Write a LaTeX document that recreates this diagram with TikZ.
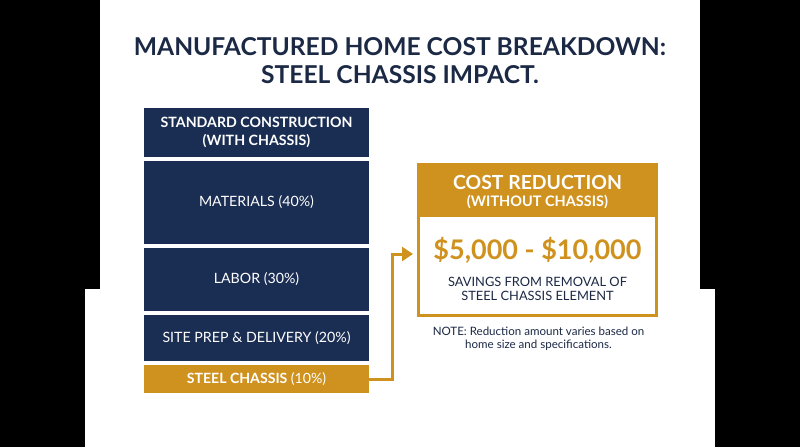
\documentclass[tikz,border=0pt]{standalone}
\usepackage{fontspec}
\setmainfont{Lato}
\usetikzlibrary{arrows.meta}
\definecolor{navy}{HTML}{1A2D52}
\definecolor{titlec}{HTML}{1B2945}
\definecolor{gold}{HTML}{D0921F}
\tikzset{
  navybox/.style={fill=navy, text=white, minimum width=225pt, inner sep=0pt, align=center, font=\fontsize{14.2}{17}\selectfont},
  goldbox/.style={fill=gold, text=white, minimum width=225pt, inner sep=0pt, align=center, font=\fontsize{14.1}{17}\selectfont},
  conn/.style={draw=gold, line width=3pt, -{Triangle[length=11pt,width=14pt]}}
}
\begin{document}
\begin{tikzpicture}[x=1pt,y=-1pt]
\useasboundingbox (0,0) rectangle (800,447);
\fill[black] (0,0) rectangle (800,447);
\fill[white] (100,0) rectangle (700,289);
\fill[white] (85,289) rectangle (715,447);
% title
\node[text=titlec, font=\fontsize{24.6}{28}\selectfont\bfseries, align=center] (title) at (400,61) {MANUFACTURED HOME COST BREAKDOWN:\\STEEL CHASSIS IMPACT.};
% left column
\node[navybox, minimum height=49pt, font=\fontsize{14.2}{17.5}\selectfont\bfseries] (std) at (256.5,132.5) {STANDARD CONSTRUCTION\\(WITH CHASSIS)};
\node[navybox, minimum height=83pt] (mat) at (256.5,202.5) {MATERIALS (40\%)};
\node[navybox, minimum height=63pt] (lab) at (256.5,279.5) {LABOR (30\%)};
\node[navybox, minimum height=46pt] (site) at (256.5,338) {SITE PREP \& DELIVERY (20\%)};
\node[goldbox, minimum height=28pt] (steel) at (256.5,379) {\textbf{STEEL CHASSIS} (10\%)};
% right box
\node[draw=gold, line width=3pt, fill=white, minimum width=238pt, minimum height=151pt, inner sep=0pt] (red) at (537.5,240) {};
\fill[gold] (417,163) rectangle (658,217);
\node[text=white, font=\fontsize{19.4}{21}\selectfont\bfseries] (crt) at (537.5,182) {COST REDUCTION};
\node[text=white, font=\fontsize{14.5}{16}\selectfont\bfseries] (crs) at (537.5,202) {(WITHOUT CHASSIS)};
\node[text=gold, font=\fontsize{27}{30}\selectfont\bfseries] (amt) at (537.5,250) {\$5,000 - \$10,000};
\node[text=titlec, font=\fontsize{12.85}{14.5}\selectfont, align=center] (sav) at (537.5,289) {SAVINGS FROM REMOVAL OF\\STEEL CHASSIS ELEMENT};
\node[text=titlec, font=\fontsize{11.55}{13}\selectfont, align=center] (note) at (538.5,339) {NOTE: Reduction amount varies based on\\home size and specifications.};
% connector
\coordinate (tgt) at (413,254);
\draw[conn] (steel.east) -- (392,379) |- (tgt);
\end{tikzpicture}
\end{document}
